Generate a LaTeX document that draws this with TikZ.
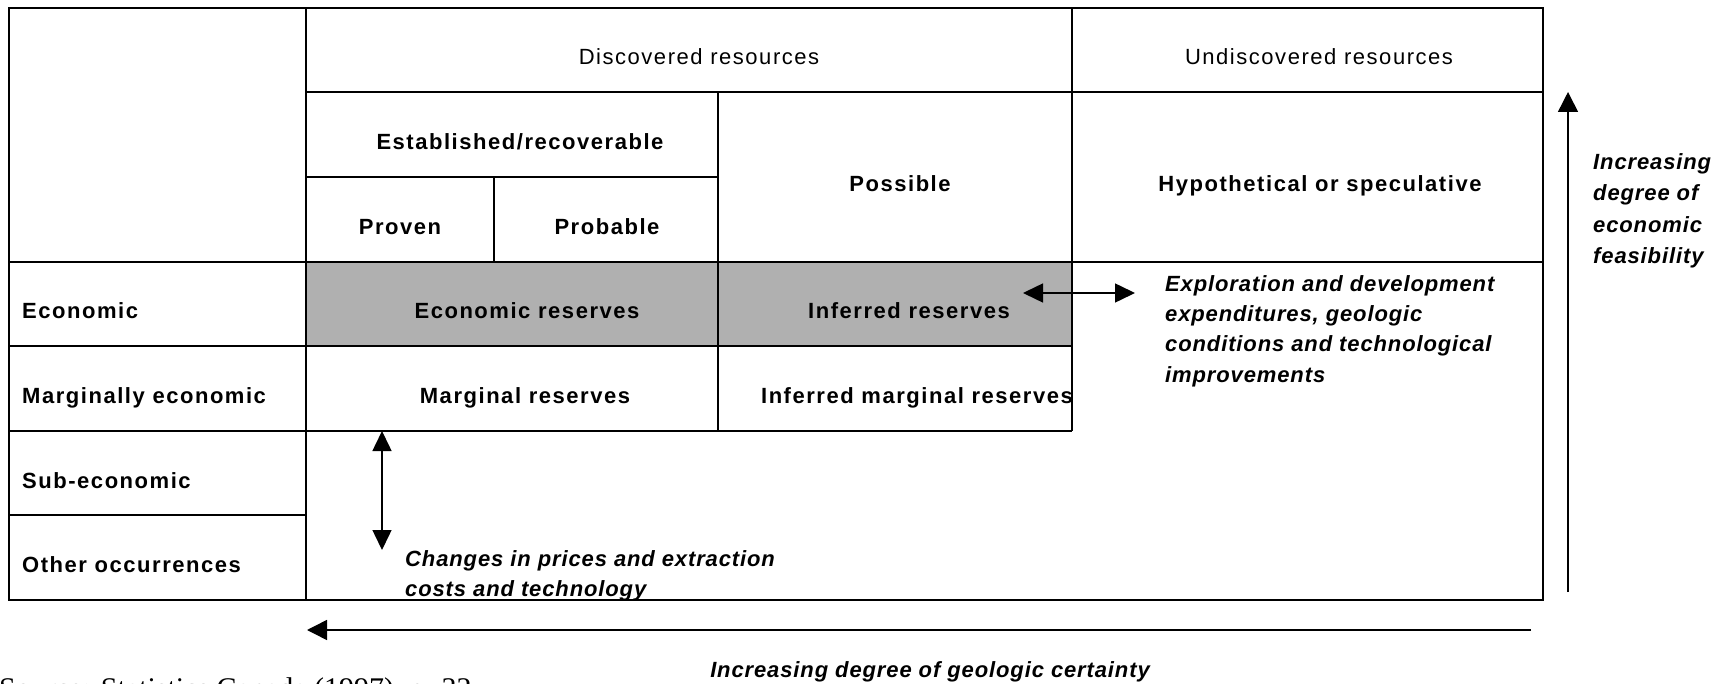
\documentclass[tikz,border=0pt]{standalone}
\usepackage{fontspec}
\setmainfont{Liberation Sans}
\newfontfamily\labfont[LetterSpace=7]{Liberation Sans}
\newfontfamily\notefont[LetterSpace=4]{Liberation Sans}
\newfontfamily\srcfont{Liberation Serif}
\usetikzlibrary{arrows.meta}
\definecolor{resgrey}{RGB}{176,176,176}
\begin{document}
\begin{tikzpicture}[x=1pt,y=-1pt,
  grid/.style={line width=2pt, black},
  lab/.style={font=\labfont\bfseries\fontsize{22}{26}\selectfont, inner sep=0pt, anchor=base},
  hdr/.style={font=\labfont\fontsize{22}{26}\selectfont, inner sep=0pt, anchor=base},
  rowlab/.style={lab, anchor=base west},
  note/.style={font=\notefont\bfseries\itshape\fontsize{22}{30.5}\selectfont, inner sep=0pt, anchor=base west, align=left},
  arr/.style={line width=1.5pt, -{Triangle[length=20pt,width=20pt]}},
  darr/.style={line width=1.5pt, {Triangle[length=20pt,width=19pt]}-{Triangle[length=20pt,width=19pt]}}
]
\useasboundingbox (0,0) rectangle (1724,684);
\clip (0,0) rectangle (1724,684);
\fill[white] (0,0) rectangle (1724,684);
% grey band
\fill[resgrey] (306,262) rectangle (1072,346);
% grid
\draw[grid] (9,8) rectangle (1543,600);
\draw[grid] (306,8) -- (306,600);
\draw[grid] (306,92) -- (1543,92);
\draw[grid] (306,177) -- (718,177);
\draw[grid] (9,262) -- (1543,262);
\draw[grid] (9,346) -- (1072,346);
\draw[grid] (9,431) -- (1072,431);
\draw[grid] (9,515) -- (306,515);
\draw[grid] (494,177) -- (494,262);
\draw[grid] (718,92) -- (718,431);
\draw[grid] (1072,8) -- (1072,431);
% headers
\node[hdr] (disc) at (699,65) {Discovered resources};
\node[hdr] (undisc) at (1319,65) {Undiscovered resources};
\node[lab] (estab) at (520,150) {Established/recoverable};
\node[lab] (proven) at (400,234.5) {Proven};
\node[lab] (probable) at (607,234.5) {Probable};
\node[lab] (possible) at (900,192) {Possible};
\node[lab] (hypo) at (1320,192) {Hypothetical or speculative};
% row labels
\node[rowlab] (econ) at (22,319) {Economic};
\node[rowlab] (marg) at (22,403.5) {Marginally economic};
\node[rowlab] (sub) at (22,488) {Sub-economic};
\node[rowlab] (other) at (22,572) {Other occurrences};
% cells
\node[lab] (econres) at (527,319) {Economic reserves};
\node[lab] (infres) at (909,319) {Inferred reserves};
\node[lab] (margres) at (525,403.5) {Marginal reserves};
\node[lab] (infmarg) at (917,403.5) {Inferred marginal reserves};
% notes (anchor = baseline of last line)
\node[note] (expl) at (1165,382.5) {Exploration and development\\expenditures, geologic\\conditions and technological\\improvements};
\node[note, font=\notefont\bfseries\itshape\fontsize{22}{30}\selectfont] (changes) at (405,596.5) {Changes in prices and extraction\\costs and technology};
\node[note, font=\notefont\bfseries\itshape\fontsize{22}{31.3}\selectfont] (feas) at (1593,263.5) {Increasing\\degree of\\economic\\feasibility};
\node[note, anchor=base] (geo) at (930,677) {Increasing degree of geologic certainty};
\node[font=\srcfont\fontsize{30}{30}\selectfont, inner sep=0pt, anchor=base west] (src) at (-1,698) {Source: Statistics Canada (1997), p. 32};
% arrows
\coordinate (feasBot) at (1568,592);
\coordinate (feasTop) at (1568,92);
\draw[arr] (feasBot) -- (feasTop);
\coordinate (geoR) at (1531,630);
\coordinate (geoL) at (307,630);
\draw[arr] (geoR) -- (geoL);
\coordinate (vA) at (382,431);
\coordinate (vB) at (382,550);
\draw[darr] (vA) -- (vB);
\coordinate (hA) at (1023,293);
\coordinate (hB) at (1135,293);
\draw[darr] (hA) -- (hB);
\end{tikzpicture}
\end{document}
